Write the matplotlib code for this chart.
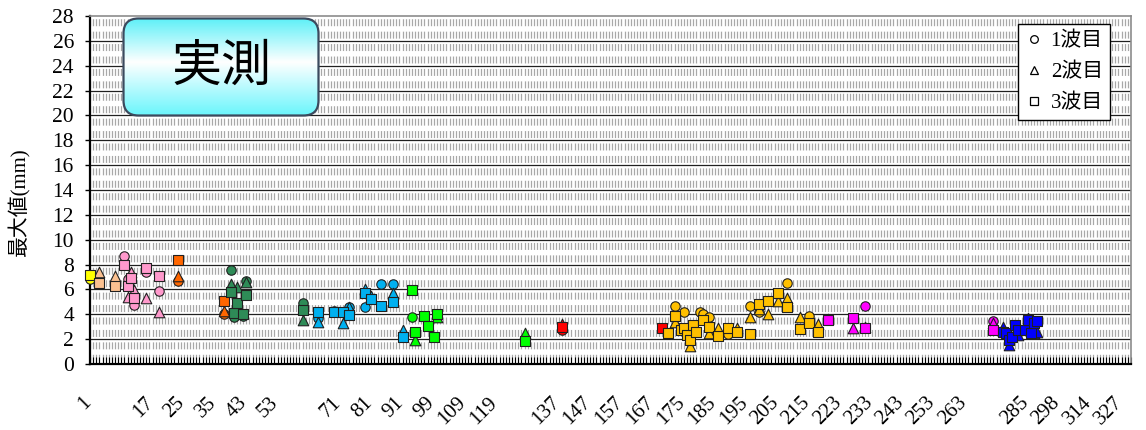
import numpy as np
import matplotlib
matplotlib.use('Agg')
import matplotlib.pyplot as plt
import matplotlib.transforms as mtransforms
from matplotlib.patches import FancyBboxPatch
from matplotlib.lines import Line2D

plt.rcParams['lines.scale_dashes'] = False
SERIF = ['Liberation Serif', 'Noto Sans CJK JP']
nan = np.nan

# category axis: 334 categories, a label every 10th one (some are blank)
n_cat = 334
tick_pos = list(range(0, 331, 10))
tick_text = ['1', '', '17', '25', '35', '43', '53', '', '71', '81', '91', '99',
             '109', '119', '', '137', '147', '157', '167', '175', '185', '195',
             '205', '215', '223', '233', '243', '253', '263', '', '285', '298',
             '314', '327']

# per group: category index and max value of wave 1 / 2 / 3 (mm)
pos_yellow = [0]
w1_yellow = [6.8]
w2_yellow = [nan]
w3_yellow = [7.2]

pos_peach = [3, 8]
w1_peach = [nan, nan]
w2_peach = [7.4, 7.1]
w3_peach = [6.5, 6.3]

pos_pink = [11, 12, 13, 14, 18, 22]
w1_pink = [8.65, 6.8, nan, 4.75, 7.4, 5.9]
w2_pink = [nan, 5.4, 7.4, 5.95, 5.3, 4.15]
w3_pink = [8.0, 6.3, 6.95, 5.35, 7.75, 7.1]

pos_orange = [28, 43]
w1_orange = [6.7, 4.0]
w2_orange = [7.1, 4.3]
w3_orange = [8.4, 5.1]

pos_dgreen = [45, 46, 47, 49, 50, 68]
w1_dgreen = [7.6, 3.8, nan, 3.9, 6.7, 4.9]
w2_dgreen = [6.4, nan, 6.2, nan, 6.6, 3.55]
w3_dgreen = [5.8, 4.1, 4.9, 4.05, 5.55, 4.35]

pos_sky = [73, 78, 81, 83, 88, 90, 93, 97, 100]
w1_sky = [3.7, 4.3, nan, 4.6, 4.6, nan, 6.4, 6.4, nan]
w2_sky = [3.4, nan, 3.3, 4.6, 6.0, 5.5, nan, 5.7, 2.7]
w3_sky = [4.2, 4.2, 4.2, 3.95, 5.7, 5.2, 4.7, 5.0, 2.2]

pos_green = [103, 104, 107, 108, 110, 111, 139]
w1_green = [3.8, nan, nan, nan, nan, nan, nan]
w2_green = [nan, 1.95, nan, nan, nan, 3.75, 2.5]
w3_green = [5.95, 2.6, 3.9, 3.05, 2.2, 4.0, 1.85]

pos_red = [151, 183]
w1_red = [2.7, nan]
w2_red = [3.2, nan]
w3_red = [3.0, 2.9]

pos_gold = [185, 187, 189, 190, 191, 192, 193, 194, 195, 196, 198,
            201, 204, 207, 211, 214, 217, 220, 223, 227, 230, 233]
w1_gold = [nan, 4.67, nan, 4.2, nan, nan, nan, nan, 4.2, 4.0, 3.8,
           nan, 2.45, nan, 4.67, 4.2, nan, nan, 6.5, nan, 3.85, nan]
w2_gold = [nan, 3.4, nan, nan, nan, 1.45, nan, nan, nan, nan, 2.5,
           2.9, nan, 2.9, 3.75, 4.4, 4.05, 5.1, 5.3, 3.75, nan, 3.25]
w3_gold = [2.5, 3.88, 2.75, 2.86, 2.33, 1.95, 3.15, 2.55, nan, 3.55, 3.0,
           2.25, 2.92, 2.55, 2.4, 4.8, 5.1, 5.7, 4.6, 2.8, 3.3, 2.55]

pos_magenta = [236, 244, 248, 289]
w1_magenta = [nan, nan, 4.67, 3.45]
w2_magenta = [3.6, 2.9, 2.95, 3.3]
w3_magenta = [3.55, 3.7, 2.92, 2.75]

pos_blue = [292, 293, 294, 295, 296, 297, 299, 300, 301, 302, 303]
w1_blue = [nan, nan, nan, nan, nan, nan, nan, 3.6, nan, 3.4, nan]
w2_blue = [3.0, nan, 1.55, nan, nan, 2.3, nan, 3.7, nan, 2.5, 2.6]
w3_blue = [2.6, 2.5, 1.95, 2.2, 3.15, 2.7, 2.75, 3.55, 2.5, 3.3, 3.5]

groups = [
    ('#FFFF00', pos_yellow, w1_yellow, w2_yellow, w3_yellow),
    ('#FAC090', pos_peach, w1_peach, w2_peach, w3_peach),
    ('#FF99CC', pos_pink, w1_pink, w2_pink, w3_pink),
    ('#FF6600', pos_orange, w1_orange, w2_orange, w3_orange),
    ('#2E8B57', pos_dgreen, w1_dgreen, w2_dgreen, w3_dgreen),
    ('#00B0F0', pos_sky, w1_sky, w2_sky, w3_sky),
    ('#00FF00', pos_green, w1_green, w2_green, w3_green),
    ('#FF0000', pos_red, w1_red, w2_red, w3_red),
    ('#FFC000', pos_gold, w1_gold, w2_gold, w3_gold),
    ('#FF00FF', pos_magenta, w1_magenta, w2_magenta, w3_magenta),
    ('#0000FF', pos_blue, w1_blue, w2_blue, w3_blue),
]
wave_markers = [('o', 6.8), ('^', 7.6), ('s', 7.4)]
legend_labels = ['1波目', '2波目', '3波目']

W, H = 1146, 430
fig = plt.figure(figsize=(W / 100, H / 100), dpi=100)
ax = fig.add_axes([90 / W, 66 / H, 1041 / W, 348 / H])
ax.set_xlim(0, n_cat - 1)
ax.set_ylim(0, 28)

# dashed vertical grid, one line per category
unit_pt = 348 / 28 * 0.72
dash_on = 0.56 * unit_pt
ax.vlines(np.arange(n_cat), 0, 28, colors='#a8a8a8', linewidth=0.9,
          linestyles=[(0.78 * unit_pt, (dash_on, unit_pt - dash_on))], zorder=1)
ax.hlines(np.arange(2, 28, 2), 0, n_cat - 1, colors='#202020', linewidth=0.9, zorder=1.5)

# circles first, then triangles, then squares on top
for k, (mk, ms) in enumerate(wave_markers):
    for color, pos, w1, w2, w3 in groups:
        vals = np.array([w1, w2, w3][k], dtype=float)
        p = np.array(pos, dtype=float)
        ok = ~np.isnan(vals)
        ax.scatter(p[ok], vals[ok], s=ms ** 2, marker=mk, c=color,
                   edgecolors='#202020', linewidths=0.8, zorder=3 + k, clip_on=False)

for side in ['left', 'bottom']:
    ax.spines[side].set_linewidth(1.6)
    ax.spines[side].set_color('black')
for side in ['top', 'right']:
    ax.spines[side].set_linewidth(1.2)
    ax.spines[side].set_color('#8c8c8c')

ax.set_yticks(np.arange(0, 29, 2))
ax.set_yticklabels([str(v) for v in range(0, 29, 2)], family=SERIF, fontsize=15.5)
ax.tick_params(axis='y', direction='out', length=3.6, width=1, pad=8.0)

ax.set_xticks(tick_pos)
ax.set_xticks(np.arange(n_cat), minor=True)
ax.set_xticklabels(tick_text, family=SERIF, fontsize=15, rotation=45,
                   ha='right', va='top')
ax.tick_params(axis='x', which='both', direction='in', length=5, width=0.8, pad=21)
shift = mtransforms.ScaledTranslation(5 / 100, 0, fig.dpi_scale_trans)
for lab in ax.get_xticklabels():
    lab.set_transform(lab.get_transform() + shift)

ax.set_ylabel('最大値(mm)', family=SERIF, fontsize=15)
ax.yaxis.set_label_coords(-0.0575, 0.466)

handles = [Line2D([], [], linestyle='none', marker=mk, markersize=5.5,
                  markerfacecolor='white', markeredgecolor='black', markeredgewidth=0.9)
           for mk, _ in wave_markers]
leg = ax.legend(handles, legend_labels, loc='upper right',
                bbox_to_anchor=(0.980, 0.977), borderaxespad=0, fancybox=False,
                framealpha=1, edgecolor='black', handlelength=0.8, handletextpad=0.4,
                labelspacing=0.55, borderpad=0.35, prop={'family': SERIF, 'size': 15})
leg.get_frame().set_linewidth(1.0)
leg.set_zorder(10)

# title box with cyan-white-cyan gradient
tax = fig.add_axes([122 / W, (H - 117) / H, 198 / W, 100 / H])
tax.set_xlim(0, 198)
tax.set_ylim(0, 100)
tax.axis('off')
box = FancyBboxPatch((1.5, 1.5), 195, 97, boxstyle='round,pad=0,rounding_size=15',
                     facecolor='none', edgecolor='#3B4A5E', linewidth=1.6, zorder=3)
tax.add_patch(box)
t = np.linspace(0, 1, 200)
top = np.array([0.35, 0.94, 0.97])
bottom = np.array([0.40, 0.96, 0.99])
white = np.array([1.0, 1.0, 1.0])
mix = np.where(t[:, None] < 0.45,
               top + (white - top) * (t[:, None] / 0.45),
               white + (bottom - white) * ((t[:, None] - 0.45) / 0.55))
img = tax.imshow(mix[:, None, :], extent=(0, 198, 0, 100), aspect='auto',
                 origin='upper', zorder=1)
img.set_clip_path(box)
tax.text(99, 50, '実測', ha='center', va='center', fontsize=36,
         family=['Noto Sans CJK JP'], zorder=4)

fig.savefig('out.png', dpi=100)
